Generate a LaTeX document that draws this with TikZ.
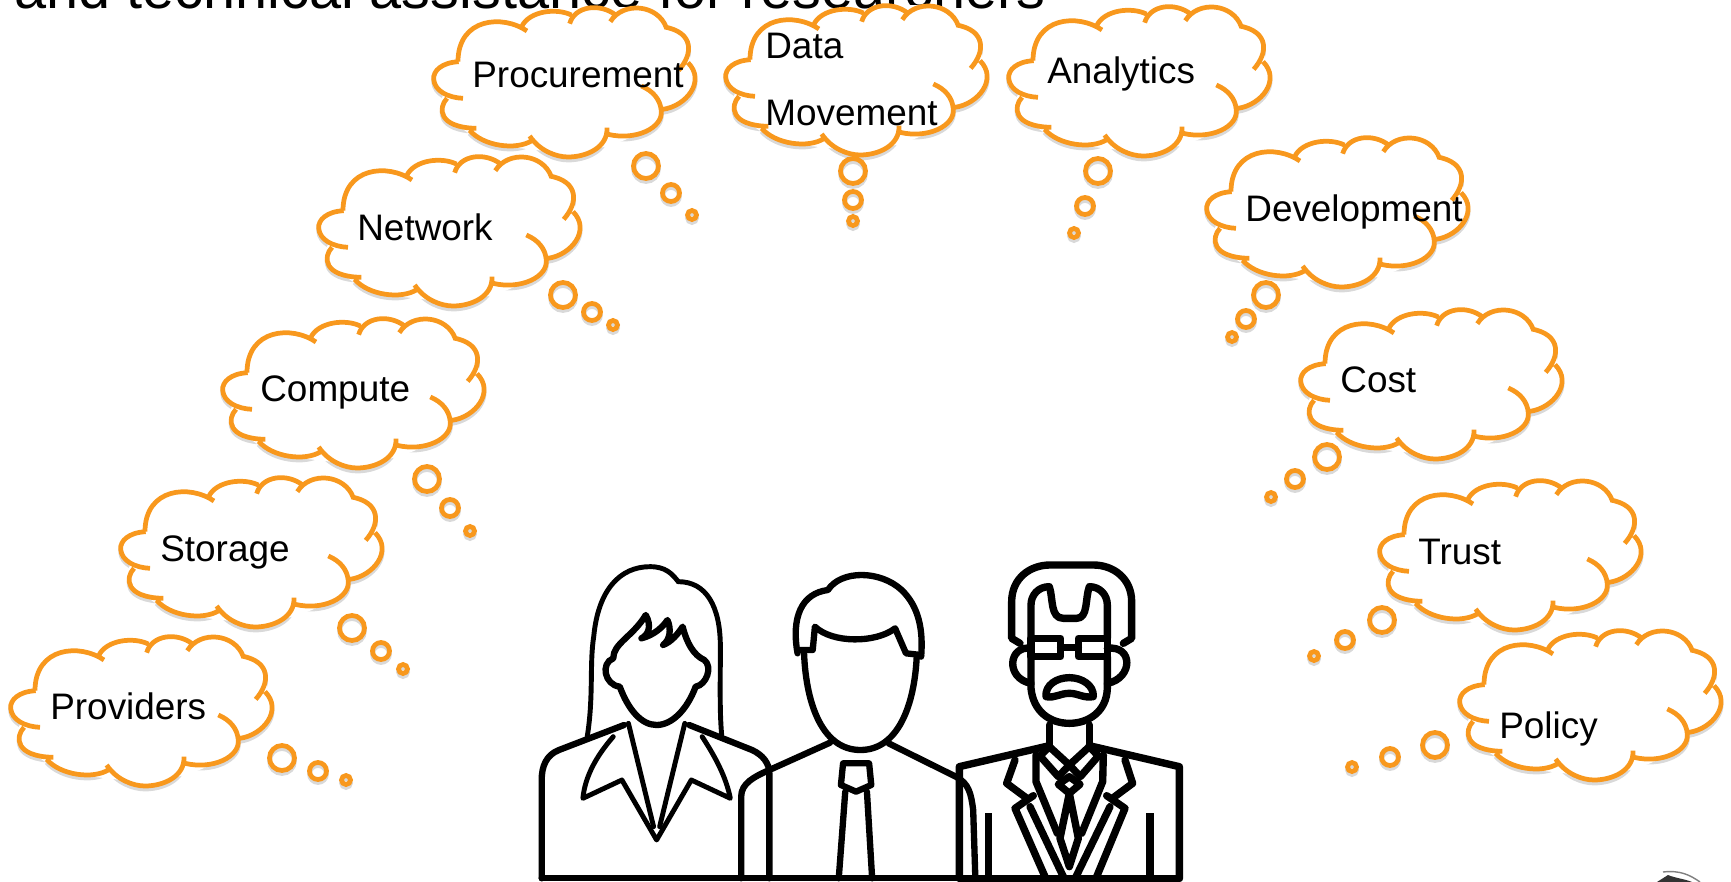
\documentclass[tikz,border=0pt]{standalone}
\usepackage{fontspec}
\setmainfont{Liberation Sans}
\usepackage{tikz}

\definecolor{cloudorange}{HTML}{F8981D}

%Bogen der Wolke (Raster: 3 Einheiten = 1 Pixel)
\newcommand{\cloudarcs}{
	(107,212) .. controls (55,215) and (30,240) .. (32,265) .. controls (35,300) and (75,320) .. (120,322)
	(72,322) .. controls (45,350) and (45,410) .. (160,412)
	(140,418) .. controls (180,465) and (280,480) .. (328,448)
	(320,435) .. controls (350,480) and (400,498) .. (435,498) .. controls (490,498) and (555,470) .. (552,410)
	(555,430) .. controls (640,450) and (720,410) .. (715,360) .. controls (712,325) and (690,300) .. (655,285)
	(720,355) .. controls (790,345) and (850,270) .. (795,215)
	(767,238) .. controls (810,190) and (815,125) .. (725,108)
	(730,110) .. controls (705,40) and (600,30) .. (562,92)
	(578,72) .. controls (530,35) and (455,45) .. (440,98)
	(445,72) .. controls (400,50) and (320,60) .. (297,105)
	(312,120) .. controls (240,70) and (105,80) .. (105,212)
}

\tikzset{
	pics/thought/.style={code={
		\begin{scope}[x=0.02cm/3, y=-0.02cm/3]
			\draw[cloudshadow, yshift=-3*0.02cm] \cloudarcs;
			\fill[white] plot[smooth cycle] coordinates {(60,222) (33,262) (60,305) (52,355) (120,415) (190,455) (260,468) (360,480) (430,498) (500,480) (620,440) (715,360) (785,330) (820,270) (800,195) (770,125) (700,70) (640,50) (520,50) (465,62) (380,62) (325,80) (250,95) (170,100) (115,150)};
			\draw[cloudline] \cloudarcs;
		\end{scope}
	}},
	cloudline/.style={cloudorange, line width=2.7pt},
	cloudshadow/.style={gray, line width=2.7pt, opacity=0.3},
	cloudtext/.style={anchor=west, inner sep=0pt, text height=0.75em, text depth=0.25em},
	oldperson/.style={line width=4.2pt, line join=round, line cap=round},
	thinperson/.style={line width=3.6pt, line join=round, line cap=round},
	hairperson/.style={line width=2.8pt, line join=round, line cap=round},
}

\begin{document}
\begin{tikzpicture}
		[
		x=0.02cm, y=-0.02cm, font=\fontsize{21}{25}\selectfont
		%Pixel des Originals als Einheit
		]
		
		%Rahmen
		\useasboundingbox (0,0) rectangle (1731,882);
		\clip (0,0) rectangle (1731,882);
		
		%Titel oben, halb abgeschnitten
		\node[anchor=base west, inner sep=0pt, font=\fontsize{32.8}{36}\selectfont] (title) at (14,9) {and technical assistance for researchers};
		
		%Wolken
		\foreach \x/\y in {0/620, 110/461, 212/302, 308/140, 423/-9, 715/-11, 998/-10, 1196/121, 1290/293, 1369/464, 1449/614}
		\pic at (\x,\y) {thought};
		
		%kleine Blasen
		\foreach \ax/\ay/\bx/\by/\cx/\cy in {
			282/758/318/771/346/780, 352/628/381/651/403/669, 427/479/450/508/470/531,
			563/295/592/312/613/325, 646/166/671/193/692/215, 853/171/853/200/853/221,
			1098/171/1085/206/1074/233, 1266/295/1246/319/1232/337, 1327/457/1295/479/1271/497,
			1382/620/1345/640/1314/656, 1435/745/1390/757/1352/767}
		{
			\draw[cloudshadow] (\ax,\ay+3) circle[radius=12.5] (\bx,\by+3) circle[radius=8.5] (\cx,\cy+3) circle[radius=4.5];
			\draw[cloudline] (\ax,\ay) circle[radius=12.5] (\bx,\by) circle[radius=8.5] (\cx,\cy) circle[radius=4.5];
		}
		
		%Beschriftung
		\foreach \name/\x/\y/\txt in {providers/50/715/Providers, storage/160/557/Storage, compute/260/397/Compute,
			network/357/236/Network, procurement/472/83/Procurement, data/765/54/Data, movement/765/121/Movement,
			analytics/1047/79/Analytics, development/1245/217/Development, cost/1340/388/Cost,
			trust/1418/560/Trust, policy/1499/734/Policy}
		\node[cloudtext] (\name) at (\x,\y) {\txt};
		
		%Personen (Raster: Ausschnitt 680 x 332)
		\begin{scope}[shift={(520,550)}, x=0.02cm/2.306, y=-0.02cm/3]
			
			%Frau
			\draw[hairperson] (155,560) .. controls (170,440) and (160,340) .. (170,260) .. controls (180,120) and (230,50) .. (300,50) .. controls (335,50) and (350,70) .. (365,95);
			\draw[hairperson] (365,95) .. controls (430,95) and (462,170) .. (462,290) .. controls (462,400) and (460,480) .. (465,555);
			\draw[thinperson] (215,325) .. controls (215,280) and (260,260) .. (290,195) .. controls (305,230) and (295,255) .. (280,265) .. controls (310,255) and (330,230) .. (340,210) .. controls (350,240) and (345,270) .. (330,285) .. controls (350,275) and (365,250) .. (375,230) .. controls (385,280) and (400,315) .. (425,330) .. controls (445,350) and (430,405) .. (405,410) .. controls (385,480) and (350,525) .. (315,525) .. controls (280,525) and (250,480) .. (230,410) .. controls (195,405) and (185,340) .. (215,325);
			\draw[thinperson] (240,525) -- (90,600) .. controls (60,615) and (50,650) .. (50,690) -- (50,985);
			\draw[thinperson] (390,525) -- (535,600) .. controls (560,615) and (575,640) .. (575,670) -- (575,985);
			\draw[hairperson] (215,560) .. controls (175,620) and (150,680) .. (145,745) -- (235,690) -- (315,870) -- (395,690) -- (485,745) .. controls (475,680) and (450,620) .. (420,560);
			\draw[hairperson] (250,520) -- (308,830) (380,520) -- (322,830);
			
			%Mann
			\draw[thinperson] (640,310) .. controls (625,200) and (650,130) .. (710,120) .. controls (740,60) and (830,60) .. (880,120) .. controls (920,170) and (930,240) .. (925,320);
			\draw[thinperson] (655,310) .. controls (660,470) and (700,600) .. (785,600) .. controls (870,600) and (910,470) .. (915,315);
			\draw[thinperson] (645,300) -- (675,300) -- (680,230) .. controls (720,280) and (820,280) .. (865,235) -- (890,310) -- (925,315);
			\draw[thinperson] (510,985) -- (510,740) .. controls (510,700) and (540,680) .. (575,660) -- (715,578);
			\draw[thinperson] (850,580) -- (1005,680) .. controls (1035,700) and (1040,730) .. (1045,780) -- (1050,985);
			\draw[thinperson] (745,640) -- (805,640) -- (810,705) -- (775,725) -- (740,705) -- cycle;
			\draw[thinperson] (750,725) -- (735,985) (800,725) -- (812,985);
			
			%Boden
			\draw[thinperson] (50,985) -- (1100,985);
		\end{scope}
		
		%alter Mann (Raster: Ausschnitt 250 x 327)
		\begin{scope}[shift={(950,555)}, x=0.02cm/3, y=-0.02cm/3]
			\draw[oldperson] (210,265) -- (185,250) -- (185,140) .. controls (185,70) and (240,30) .. (300,30) -- (430,30) .. controls (490,30) and (545,70) .. (545,140) -- (545,250) -- (520,265);
			\draw[oldperson] (243,250) -- (243,150) .. controls (243,120) and (265,95) .. (298,95) .. controls (310,130) and (300,190) .. (340,190) -- (380,190) .. controls (415,190) and (405,130) .. (418,95) .. controls (450,95) and (472,120) .. (472,150) -- (472,250);
			\draw[oldperson] (243,250) -- (332,250) -- (332,305) -- (243,305) -- cycle (385,250) -- (472,250) -- (472,305) -- (385,305) -- cycle (332,278) -- (385,278);
			\draw[oldperson] (243,280) .. controls (175,270) and (165,370) .. (243,385) (472,280) .. controls (550,270) and (550,370) .. (472,385);
			\draw[oldperson] (243,305) -- (243,400) .. controls (250,470) and (300,505) .. (358,505) .. controls (415,505) and (470,470) .. (472,400) -- (472,305);
			\draw[oldperson] (288,425) .. controls (285,390) and (320,368) .. (358,368) .. controls (395,368) and (432,390) .. (430,425) .. controls (400,430) and (385,415) .. (358,415) .. controls (330,415) and (315,430) .. (288,425) -- cycle;
			\draw[oldperson] (298,510) -- (298,572) (418,510) -- (418,572);
			\draw[oldperson] (298,572) -- (28,635) -- (28,970) (418,572) -- (688,635) -- (688,970);
			\draw[oldperson] (270,603) -- (298,575) -- (358,630) -- (325,665) -- cycle (445,603) -- (418,575) -- (358,630) -- (391,665) -- cycle;
			\draw[oldperson] (358,665) -- (390,688) -- (358,715) -- (325,688) -- cycle;
			\draw[oldperson] (195,615) -- (170,685) -- (228,728) (525,615) -- (548,685) -- (490,728);
			\draw[oldperson] (258,600) -- (258,680) -- (322,835) (460,600) -- (458,680) -- (395,835);
			\draw[oldperson] (250,722) -- (195,760) -- (285,965) (470,722) -- (525,760) -- (440,965);
			\draw[oldperson] (240,755) -- (340,965) (480,755) -- (378,965);
			\draw[oldperson] (358,715) -- (330,850) -- (358,935) -- (385,850) -- cycle;
			\draw[oldperson, line cap=butt] (115,775) -- (115,970) (600,775) -- (600,970);
			\draw[oldperson] (28,970) -- (688,970);
		\end{scope}
		
		%Rest des Logos unten rechts
		\draw[gray, line width=0.8pt] (1663,872) .. controls (1680,870) and (1690,875) .. (1700,882);
		\fill[black!80] (1657,882) -- (1668,875) .. controls (1675,878) and (1685,879) .. (1692,882) -- cycle;
		
\end{tikzpicture}
\end{document}
